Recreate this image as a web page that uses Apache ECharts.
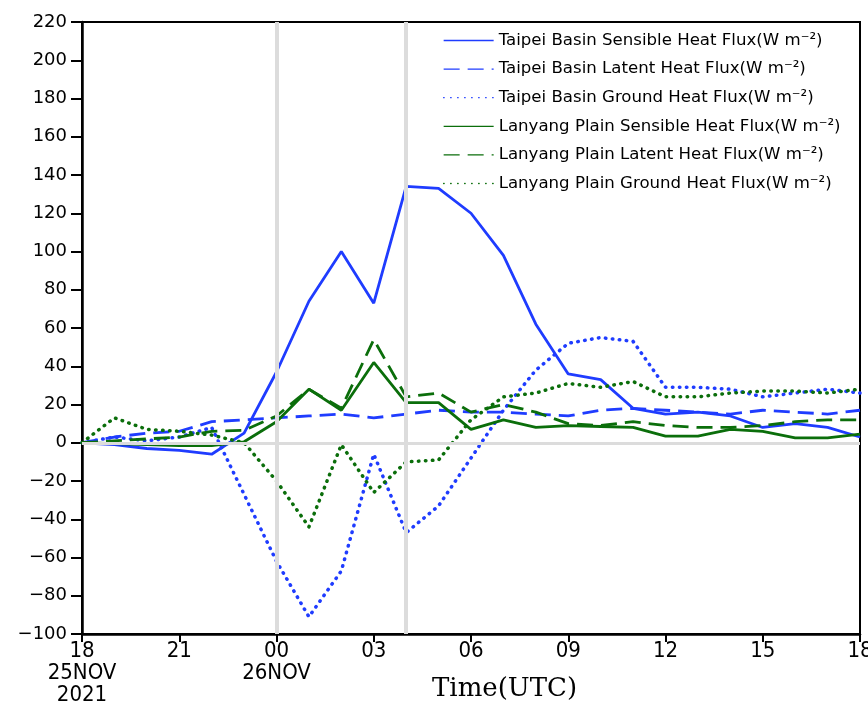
<!DOCTYPE html>
<html>
<head>
<meta charset="utf-8">
<script src="https://cdn.jsdelivr.net/npm/echarts@6/dist/echarts.min.js"></script>
<style>
  html, body { margin: 0; padding: 0; background: #fff; overflow: hidden; }
  #chart { width: 868px; height: 711px; display: block; }
</style>
</head>
<body>
<div id="chart"></div>
<script>
// Hours since 18 UTC 25 Nov 2021 (hourly, through 18 UTC 26 Nov)
const hours = [0,1,2,3,4,5,6,7,8,9,10,11,12,13,14,15,16,17,18,19,20,21,22,23,24];

// Surface heat fluxes (W m^-2)
const taipeiSensible = [0,-1,-3,-4,-6,5,37,74,100,73,134,133,120,98,62,36,33,18,15,16,14,8,10,8,3];
const taipeiLatent   = [0,3,5,6,11,12,13,14,15,13,15,17,16,16,15,14,17,18,17,16,15,17,16,15,17];
const taipeiGround   = [0,3,1,3,8,-27,-62,-91,-67,-6,-47,-33,-8,17,38,52,55,53,29,29,28,24,26,28,26];
const lanyangSensible = [0,-0.5,-1,-1.5,-1.5,0.5,11,28,17,42,21,21,7,12,8,9,8.5,8,3.5,3.5,7,6,2.5,2.5,4.5];
const lanyangLatent   = [0,1,2,3,6,6.5,14,28,18,54,24,26,16,20,16,10,9,11,9,8,8,9,11,12,12];
const lanyangGround   = [0,13,7,6,4,0,-20,-44,-1,-26,-10,-9,12,24,26,31,29,32,24,24,26,27,27,26,28];

// Axis tick labels
const xTickHours = [0,3,6,9,12,15,18,21,24];
const xTickLabels = ['18\n25NOV\n2021','21','00\n26NOV','03','06','09','12','15','18'];
const yTicks = [-100,-80,-60,-40,-20,0,20,40,60,80,100,120,140,160,180,200,220];

// Reference markers: 00 UTC and 04 UTC on 26 Nov
const markerHours = [6, 10];

const seriesNames = [
  'Taipei Basin Sensible Heat Flux(W m\u207B\u00B2)',
  'Taipei Basin Latent Heat Flux(W m\u207B\u00B2)',
  'Taipei Basin Ground Heat Flux(W m\u207B\u00B2)',
  'Lanyang Plain Sensible Heat Flux(W m\u207B\u00B2)',
  'Lanyang Plain Latent Heat Flux(W m\u207B\u00B2)',
  'Lanyang Plain Ground Heat Flux(W m\u207B\u00B2)'
];
const seriesValues = [taipeiSensible, taipeiLatent, taipeiGround, lanyangSensible, lanyangLatent, lanyangGround];

const BLUE = '#1f3cff';
const GREEN = '#0b6e0b';
const styles = [
  { color: BLUE,  type: 'solid' },
  { color: BLUE,  type: [16, 8] },
  { color: BLUE,  type: [0.5, 6.5], cap: 'round', width: 3.5 },
  { color: GREEN, type: 'solid' },
  { color: GREEN, type: [16, 8] },
  { color: GREEN, type: [0.5, 6.5], cap: 'round', width: 3.5 }
];

const pairs = vals => hours.map((h, i) => [h, vals[i]]);

const series = [
  {
    // gray reference lines underneath the fluxes
    name: 'ref',
    type: 'line',
    data: [],
    z: 1,
    silent: true,
    markLine: {
      silent: true,
      symbol: 'none',
      label: { show: false },
      lineStyle: { color: '#dcdcdc', type: 'solid', width: 4 },
      data: [
        { yAxis: 0, lineStyle: { width: 3 } },
        ...markerHours.map(h => ({ xAxis: h }))
      ]
    }
  },
  ...seriesNames.map((name, k) => ({
    name: name,
    type: 'line',
    z: 3,
    symbol: 'none',
    data: pairs(seriesValues[k]),
    lineStyle: {
      color: styles[k].color,
      width: styles[k].width || 2.8,
      type: styles[k].type,
      cap: styles[k].cap || 'butt'
    },
    itemStyle: { color: styles[k].color }
  }))
];

const chart = echarts.init(document.getElementById('chart'), null, { width: 868, height: 711 });
chart.setOption({
  animation: false,
  backgroundColor: '#fff',
  grid: {
    left: 82, right: 8, top: 22, bottom: 77,
    containLabel: false,
    outerBoundsMode: 'none',
    show: true, borderColor: '#000', borderWidth: 2
  },
  legend: {
    data: seriesNames,
    orient: 'vertical',
    left: 438,
    top: 27,
    itemWidth: 50,
    itemHeight: 14,
    itemGap: 11.6,
    itemStyle: { opacity: 0 },
    lineStyle: { width: 1.3 },
    textStyle: { fontFamily: 'DejaVu Sans', fontSize: 16.6, lineHeight: 16, color: '#000' }
  },
  xAxis: {
    type: 'value',
    min: 0,
    max: 24,
    interval: 3,
    splitLine: { show: false },
    axisLine: { onZero: false, lineStyle: { color: '#000', width: 2.5 } },
    axisTick: { inside: false, length: 8, lineStyle: { color: '#000', width: 2 } },
    axisLabel: {
      margin: 6,
      color: '#000',
      fontFamily: "'Liberation Sans Narrow', 'DejaVu Sans Condensed', 'Roboto Condensed', Roboto, sans-serif",
      fontSize: 22,
      lineHeight: 22,
      formatter: v => xTickLabels[xTickHours.indexOf(v)] ?? ''
    }
  },
  yAxis: {
    type: 'value',
    min: yTicks[0],
    max: yTicks[yTicks.length - 1],
    interval: 20,
    splitLine: { show: false },
    axisLine: { lineStyle: { color: '#000', width: 2.5 } },
    axisTick: { inside: false, length: 11, lineStyle: { color: '#000', width: 2 } },
    axisLabel: {
      margin: 15,
      color: '#000',
      fontFamily: 'DejaVu Sans',
      fontSize: 18,
      formatter: v => (v < 0 ? '\u2212' + Math.abs(v) : String(v))
    }
  },
  graphic: [
    {
      type: 'text',
      left: 432,
      top: 676,
      style: { text: 'Time(UTC)', fontFamily: 'DejaVu Serif', fontSize: 26, fill: '#000' }
    }
  ],
  series: series
});
</script>
</body>
</html>
